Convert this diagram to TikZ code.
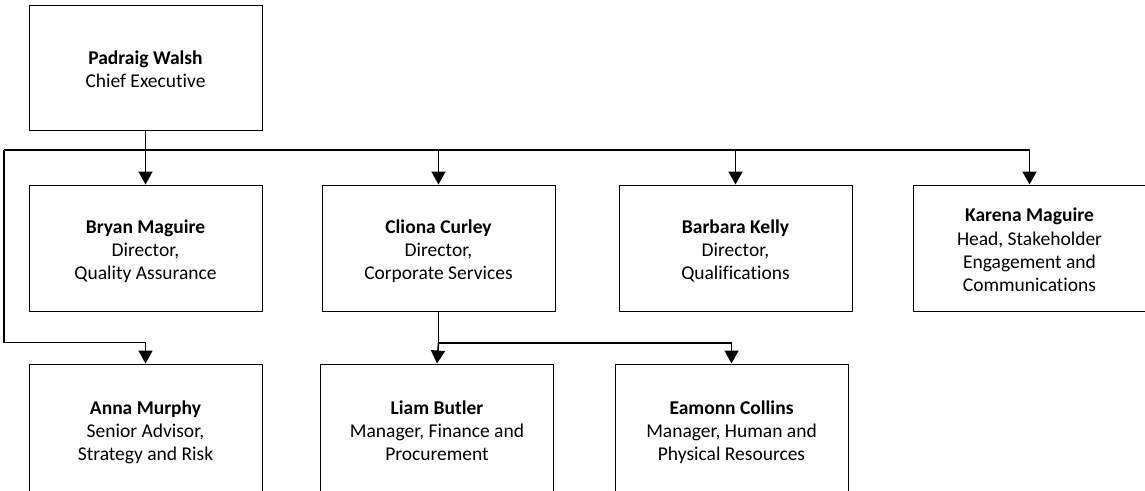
\documentclass[tikz,border=0pt]{standalone}
\usepackage{fontspec}
\setmainfont{Carlito}[Ligatures=NoCommon]
\usepackage{xcolor}
\usetikzlibrary{arrows.meta}
\newcommand{\who}[2]{\rule{0pt}{24.3pt}\textbf{#1}\\#2\strut}

\begin{document}
\begin{tikzpicture}[x=1pt,y=-1pt,
  person/.style={draw,line width=1pt,minimum width=233pt,minimum height=126pt,
    align=center,inner sep=0pt,font=\fontsize{19.5}{23.3}\selectfont},
  link/.style={line width=1.6pt},
  arr/.style={link,-{Triangle[width=14pt,length=13pt]}}]
\useasboundingbox (0,0) rectangle (1145,490);
\clip (0,0) rectangle (1145,490);
%draw nodes
\node[person,minimum height=125pt] (walsh) at (145.5,67.5) {\who{Padraig Walsh}{Chief Executive}};
\node[person] (bryan) at (145.5,248) {\who{Bryan Maguire}{Director,\\Quality Assurance}};
\node[person] (cliona) at (438.5,248) {\who{Cliona Curley}{Director,\\Corporate Services}};
\node[person] (barbara) at (735.5,248) {\who{Barbara Kelly}{Director,\\Qualifications}};
\node[person] (karena) at (1029.5,248) {\who{Karena Maguire}{Head, Stakeholder\\Engagement and\\Communications}};
\node[person,minimum height=130pt] (anna) at (145.5,429) {\who{Anna Murphy}{Senior Advisor,\\Strategy and Risk}};
\node[person,minimum height=130pt] (liam) at (437,429) {\who{Liam Butler}{Manager, Finance and\\Procurement}};
\node[person,minimum height=130pt] (eamonn) at (731.5,429) {\who{Eamonn Collins}{Manager, Human and\\Physical Resources}};
\coordinate (bus) at (4,150);
\coordinate (split) at (438.5,343);
%draw horizontal line
\draw[link] (bus) -- (karena.north |- bus);
%draw arrows
\draw[arr] (walsh.south) -- (bryan.north);
\foreach \n in {cliona, barbara, karena}{
   \draw[arr] (\n.north |- bus) -- (\n.north);
}
\draw[arr] (bus) |- ([yshift=21pt]anna.north) -- (anna.north);
\draw[link] (cliona.south) -- (split);
\draw[arr] (split) -- (liam.north);
\draw[arr] (split) -| (eamonn.north);
\end{tikzpicture}
\end{document}
